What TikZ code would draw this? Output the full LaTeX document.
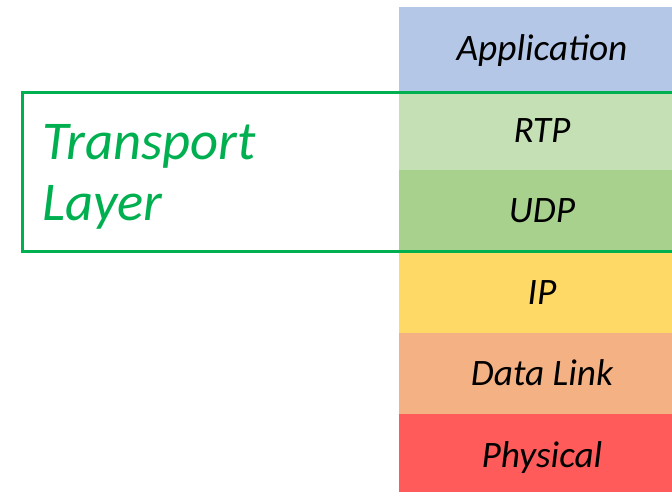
\documentclass[tikz,border=0pt]{standalone}
\usepackage{fontspec}
\setmainfont{Carlito}
\usetikzlibrary{fit}
\definecolor{appblue}{HTML}{B4C7E7}
\definecolor{rtpgreen}{HTML}{C5E0B4}
\definecolor{udpgreen}{HTML}{A9D18E}
\definecolor{ipyellow}{HTML}{FFD966}
\definecolor{linkorange}{HTML}{F4B183}
\definecolor{physred}{HTML}{FF5B5B}
\definecolor{transgreen}{HTML}{00B050}
\tikzset{
  layer/.style={rectangle, inner sep=0pt, draw=none, minimum width=214.5pt,
    text height=18pt, text depth=0pt,
    font=\fontsize{28}{32}\selectfont\itshape, text=black},
  groupbox/.style={draw=transgreen, line width=2.25pt, inner sep=0pt},
  grouplabel/.style={inner sep=0pt, align=left, text=transgreen,
    font=\fontsize{41}{45.75}\selectfont\itshape}
}
\begin{document}
\begin{tikzpicture}[x=0.75pt, y=-0.75pt]
  \useasboundingbox (0,0) rectangle (672,492);
  % protocol stack, top to bottom (blocks run past the right edge)
  \node (app)  [layer, fill=appblue,    minimum height=63pt]    at (542,49)    {Application};
  \node (rtp)  [layer, fill=rtpgreen,   minimum height=59.25pt] at (542,130.5) {RTP};
  \node (udp)  [layer, fill=udpgreen,   minimum height=60.75pt] at (542,210.5) {UDP};
  \node (ip)   [layer, fill=ipyellow,   minimum height=61.5pt]  at (542,292)   {IP};
  \node (link) [layer, fill=linkorange, minimum height=60.75pt] at (542,373.5) {Data Link};
  \node (phys) [layer, fill=physred,    minimum height=61.5pt]  at (542,455)   {Physical};
  % transport layer grouping
  \node (transport) [groupbox, fit={(22,92.5) (700,251.5)}] {};
  \node (translabel) [grouplabel, anchor=base west] at (42,220) {Transport\\Layer};
\end{tikzpicture}
\end{document}
